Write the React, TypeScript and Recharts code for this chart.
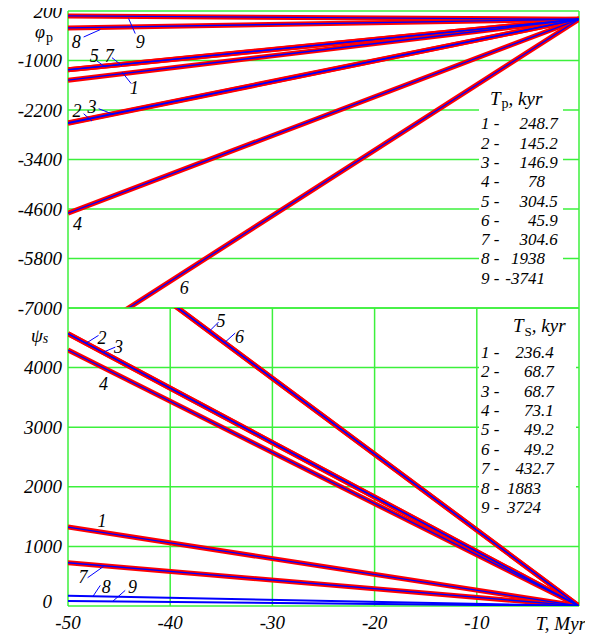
import React from "react"
import {
  LineChart, Line, XAxis, YAxis, CartesianGrid,
  ReferenceLine, ReferenceDot
} from "recharts"

const T_RANGE = [-50, 0]
const X_TICKS = [-50, -40, -30, -20, -10, 0]
const PHI_TICKS = [-7000, -5800, -4600, -3400, -2200, -1000, 200]
const PSI_TICKS = [0, 1000, 2000, 3000, 4000, 5000]

const CURVE_IDS = ["1", "2", "3", "4", "5", "6", "7", "8", "9"]
const TP_KYR = ["248.7", "145.2", "146.9", "78", "304.5", "45.9", "304.6", "1938", "-3741"]
const TS_KYR = ["236.4", "68.7", "68.7", "73.1", "49.2", "49.2", "432.7", "1883", "3724"]

// phase values at T = -50 Myr and at T = 0
const PHI_P_START = [-1477, -2525, -2510, -4700, -1225, -7940, -1222, -210, 80]
const PHI_P_END = [0, 0, 0, 0, 0, 0, 0, 0, 0]
const PSI_S_START = [1324, 4570, 4568, 4295, 6370, 6368, 726, 172, 84]
const PSI_S_END = [0, 0, 0, 0, 0, 0, 0, 0, 0]

// curves drawn only as a thin blue line in the lower panel
const PSI_BLUE_ONLY = ["8", "9"]

// curve numbers placed next to the lines (data coords)
const PHI_NOTES = [
  { text: "8", t: -49.19, v: -552, from: [-48.47, -431], to: [-46.84, -251] },
  { text: "9", t: -42.93, v: -552, from: [-43.42, -348], to: [-44.07, 16] },
  { text: "5", t: -47.43, v: -875, from: [-47.16, -1013], to: [-46.35, -1159] },
  { text: "7", t: -45.96, v: -875, from: [-45.7, -931], to: [-44.72, -1125] },
  { text: "1", t: -43.52, v: -1652, from: [-43.81, -1562], to: [-44.72, -1280] },
  { text: "2", t: -49.12, v: -2210, from: [-48.47, -2290], to: [-47.65, -2470] },
  { text: "3", t: -47.65, v: -2113, from: [-47.0, -2169], to: [-45.54, -2307] },
  { text: "4", t: -49.06, v: -4960 },
  { text: "6", t: -38.63, v: -6513 },
]

const PSI_NOTES = [
  { text: "5", t: -35.04, v: 4781, from: [-35.27, 4764], to: [-36.25, 4596] },
  { text: "6", t: -33.22, v: 4524, from: [-33.64, 4579], to: [-34.62, 4428] },
  { text: "2", t: -46.68, v: 4502, from: [-47.01, 4541], to: [-48.21, 4411] },
  { text: "3", t: -45.05, v: 4344, from: [-45.37, 4344], to: [-46.52, 4260] },
  { text: "4", t: -46.52, v: 3730 },
  { text: "1", t: -46.68, v: 1436 },
  { text: "7", t: -48.53, v: 497, from: [-46.52, 664], to: [-48.08, 475] },
  { text: "8", t: -46.25, v: 317, from: [-46.84, 346], to: [-47.56, 161] },
  { text: "9", t: -43.68, v: 329, from: [-44.4, 262], to: [-45.6, 82] },
]

const SERIF = "Liberation Serif"
const GRID = "#3cf03c"
const RED = "#ff0000"
const BLUE = "#0000ff"

const phiData = T_RANGE.map((t, i) => {
  const row: Record<string, number> = { t }
  CURVE_IDS.forEach((id, k) => {
    row[id] = i === 0 ? PHI_P_START[k] : PHI_P_END[k]
  })
  return row
})

const psiData = T_RANGE.map((t, i) => {
  const row: Record<string, number> = { t }
  CURVE_IDS.forEach((id, k) => {
    row[id] = i === 0 ? PSI_S_START[k] : PSI_S_END[k]
  })
  return row
})

function YTick({ x, y, payload, skip }: any) {
  if (payload.value === skip) return null
  const zero = payload.value === 0
  return (
    <text x={x - (zero ? 10 : 0)} y={y - (zero ? 5 : 0)} dy="0.35em" textAnchor="end"
      fontFamily={SERIF} fontStyle="italic" fontSize={19} fill="#000">
      {payload.value}
    </text>
  )
}

function XTick({ x, y, payload }: any) {
  if (payload.value === 0) return null
  return (
    <text x={x} y={y} dy="0.71em" textAnchor="middle"
      fontFamily={SERIF} fontStyle="italic" fontSize={19} fill="#000">
      {payload.value}
    </text>
  )
}

function NoteText({ cx, cy, text }: any) {
  return (
    <text x={cx} y={cy} dy="0.35em" textAnchor="middle"
      fontFamily={SERIF} fontStyle="italic" fontSize={18} fill="#000">
      {text}
    </text>
  )
}

function notes(list: any[]) {
  const out: any[] = []
  list.forEach((n, i) => {
    if (n.from) {
      out.push(
        <ReferenceLine
          key={"l" + i}
          segment={[{ x: n.from[0], y: n.from[1] }, { x: n.to[0], y: n.to[1] }]}
          stroke={BLUE}
          strokeWidth={1}
        />
      )
    }
    out.push(
      <ReferenceDot
        key={"d" + i}
        x={n.t}
        y={n.v}
        r={1}
        shape={(p: any) => <NoteText cx={p.cx} cy={p.cy} text={n.text} />}
      />
    )
  })
  return out
}

function Legend({ x0, intEnd, y0, step, values }: any) {
  return (
    <g fontFamily={SERIF} fontStyle="italic" fontSize={17} fill="#000">
      {values.map((v: string, i: number) => {
        const [ip, fp] = v.split(".")
        const y = y0 + i * step + 6
        return (
          <g key={i}>
            <text x={x0} y={y}>{CURVE_IDS[i] + " -"}</text>
            <text x={intEnd} y={y} textAnchor="end">{ip}</text>
            {fp !== undefined && <text x={intEnd} y={y}>{"." + fp}</text>}
          </g>
        )
      })}
    </g>
  )
}

export default function App() {
  return (
    <div style={{ position: "relative", width: 593, height: 635, margin: "-8px 0 0 -8px", background: "#fff" }}>
      <div style={{ position: "absolute", left: 0, top: 0 }}>
        <LineChart width={593} height={320} data={phiData} margin={{ top: 11, right: 14, left: 0, bottom: 12 }}>
          <CartesianGrid stroke={GRID} strokeWidth={1.5} />
          <XAxis
            dataKey="t" type="number" domain={[-50, 0]} ticks={X_TICKS}
            height={0} tick={false} axisLine={false} tickLine={false} allowDataOverflow
          />
          <YAxis
            type="number" domain={[-7000, 200]} ticks={PHI_TICKS} width={68}
            axisLine={false} tickLine={false} tickSize={0} tickMargin={6}
            tick={<YTick />} allowDataOverflow interval={0}
          />
          {CURVE_IDS.map((id) => (
            <Line key={"r" + id} dataKey={id} type="linear" stroke={RED} strokeWidth={5}
              dot={false} isAnimationActive={false} />
          ))}
          {CURVE_IDS.map((id) => (
            <Line key={"b" + id} dataKey={id} type="linear" stroke={BLUE} strokeWidth={1.3}
              dot={false} isAnimationActive={false} />
          ))}
          {notes(PHI_NOTES)}
        </LineChart>
      </div>
      <div style={{ position: "absolute", left: 0, top: 300 }}>
        <LineChart width={593} height={335} data={psiData} margin={{ top: 8, right: 14, left: 0, bottom: 0 }}>
          <CartesianGrid stroke={GRID} strokeWidth={1.5} />
          <XAxis
            dataKey="t" type="number" domain={[-50, 0]} ticks={X_TICKS} height={29}
            axisLine={false} tickLine={false} tickSize={0} tickMargin={10}
            tick={<XTick />} allowDataOverflow interval={0}
          />
          <YAxis
            type="number" domain={[0, 5000]} ticks={PSI_TICKS} width={68}
            axisLine={false} tickLine={false} tickSize={0} tickMargin={6}
            tick={<YTick skip={5000} />} allowDataOverflow interval={0}
          />
          {CURVE_IDS.filter((id) => !PSI_BLUE_ONLY.includes(id)).map((id) => (
            <Line key={"r" + id} dataKey={id} type="linear" stroke={RED} strokeWidth={5}
              dot={false} isAnimationActive={false} />
          ))}
          {CURVE_IDS.map((id) => (
            <Line key={"b" + id} dataKey={id} type="linear" stroke={BLUE}
              strokeWidth={PSI_BLUE_ONLY.includes(id) ? 2 : 1.3}
              dot={false} isAnimationActive={false} />
          ))}
          {notes(PSI_NOTES)}
        </LineChart>
      </div>
      <svg width={593} height={635} style={{ position: "absolute", left: 0, top: 0, pointerEvents: "none" }}>
        <g fontFamily={SERIF} fontStyle="italic" fill="#000">
          <text x={35} y={38} fontSize={18}>φ<tspan dx={1} dy={4} fontSize={14} fontStyle="normal">p</tspan></text>
          <text x={31} y={342} fontSize={19}>ψ<tspan dy={1} fontSize={14}>s</tspan></text>
          <text x={586} y={630} fontSize={19} textAnchor="end">T, Myr</text>
        </g>
        <rect x={479} y={86} width={84} height={211} fill="#fff" />
        <rect x={479} y={312} width={97} height={206} fill="#fff" />
        <g fontFamily={SERIF} fontStyle="italic" fill="#000">
          <text x={490} y={105} fontSize={19}>T<tspan dx={1} dy={3} fontSize={14} fontStyle="normal">p</tspan><tspan dy={-3}>, kyr</tspan></text>
          <text x={513} y={332} fontSize={19}>T<tspan dx={1} dy={4} fontSize={13} fontStyle="normal">S</tspan><tspan dy={-4}>, kyr</tspan></text>
        </g>
        <Legend x0={481} intEnd={545} y0={123.3} step={19.3} values={TP_KYR} />
        <Legend x0={481} intEnd={541} y0={351.7} step={19.4} values={TS_KYR} />
      </svg>
    </div>
  )
}
